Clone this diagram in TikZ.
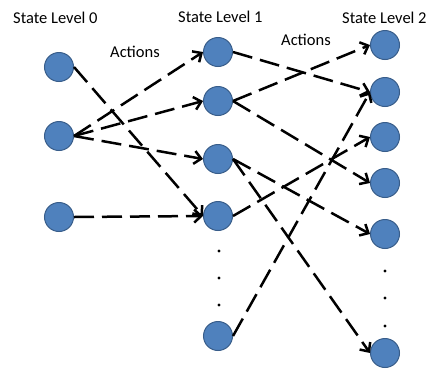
\documentclass[tikz,border=0pt]{standalone}
\usepackage{fontspec}
\setmainfont{Carlito}
\usetikzlibrary{arrows.meta}
\definecolor{statefill}{RGB}{79,129,189}
\definecolor{stateedge}{RGB}{56,93,138}
\begin{document}
\begin{tikzpicture}[x=1pt,y=-1pt,
  state/.style={circle,fill=statefill,draw=stateedge,line width=1pt,minimum size=29pt,inner sep=0pt},
  lbl/.style={anchor=base west,inner sep=0pt,font=\fontsize{16.5}{18}\selectfont},
  act/.style={line width=2.5pt,dash pattern=on 20pt off 8pt,-{Straight Barb[length=7pt,width=13pt,line width=2.5pt]}},
  dotmark/.style={circle,fill=black,minimum size=3.4pt,inner sep=0pt}]
\useasboundingbox (0,0) rectangle (429,368);
\fill[white] (0,0) rectangle (429,368);

% headings
\node[lbl] (h0) at (13,23) {State Level 0};
\node[lbl] (h1) at (178,22) {State Level 1};
\node[lbl] (h2) at (342,23) {State Level 2};
\node[lbl] (ac1) at (110,57) {Actions};
\node[lbl] (ac2) at (281,45) {Actions};

% level 0
\node[state] (a0) at (59,67) {};
\node[state] (a1) at (59,136) {};
\node[state] (a2) at (59,217) {};

% level 1
\node[state] (b1) at (218,52) {};
\node[state] (b2) at (218,101) {};
\node[state] (b3) at (218,159) {};
\node[state] (b4) at (218,216) {};
\node[state] (b5) at (218,336) {};

% level 2
\node[state] (c1) at (385,45) {};
\node[state] (c2) at (385,92) {};
\node[state] (c3) at (385,137) {};
\node[state] (c4) at (385,183) {};
\node[state] (c5) at (385,234) {};
\node[state] (c6) at (385,353) {};

% ellipsis dots
\node[dotmark] (d1) at (219,251) {};
\node[dotmark] (d2) at (219,278) {};
\node[dotmark] (d3) at (219,305) {};
\node[dotmark] (e1) at (385,271) {};
\node[dotmark] (e2) at (385,298) {};
\node[dotmark] (e3) at (385,326) {};

% actions from level 0
\draw[act] (a0.east) -- (b4.west);
\draw[act] (a1.east) -- (b1.west);
\draw[act] (a1.east) -- (b2.west);
\draw[act] (a1.east) -- (b3.west);
\draw[act] (a2.east) -- (b4.west);

% actions from level 1
\draw[act] (b1.east) -- (c2.west);
\draw[act] (b2.east) -- (c1.west);
\draw[act] (b2.east) -- (c4.west);
\draw[act] (b3.east) -- (c5.west);
\draw[act] (b3.east) -- (c6.west);
\draw[act] (b4.east) -- (c3.west);
\draw[act] (b5.east) -- (c2.west);
\end{tikzpicture}
\end{document}
